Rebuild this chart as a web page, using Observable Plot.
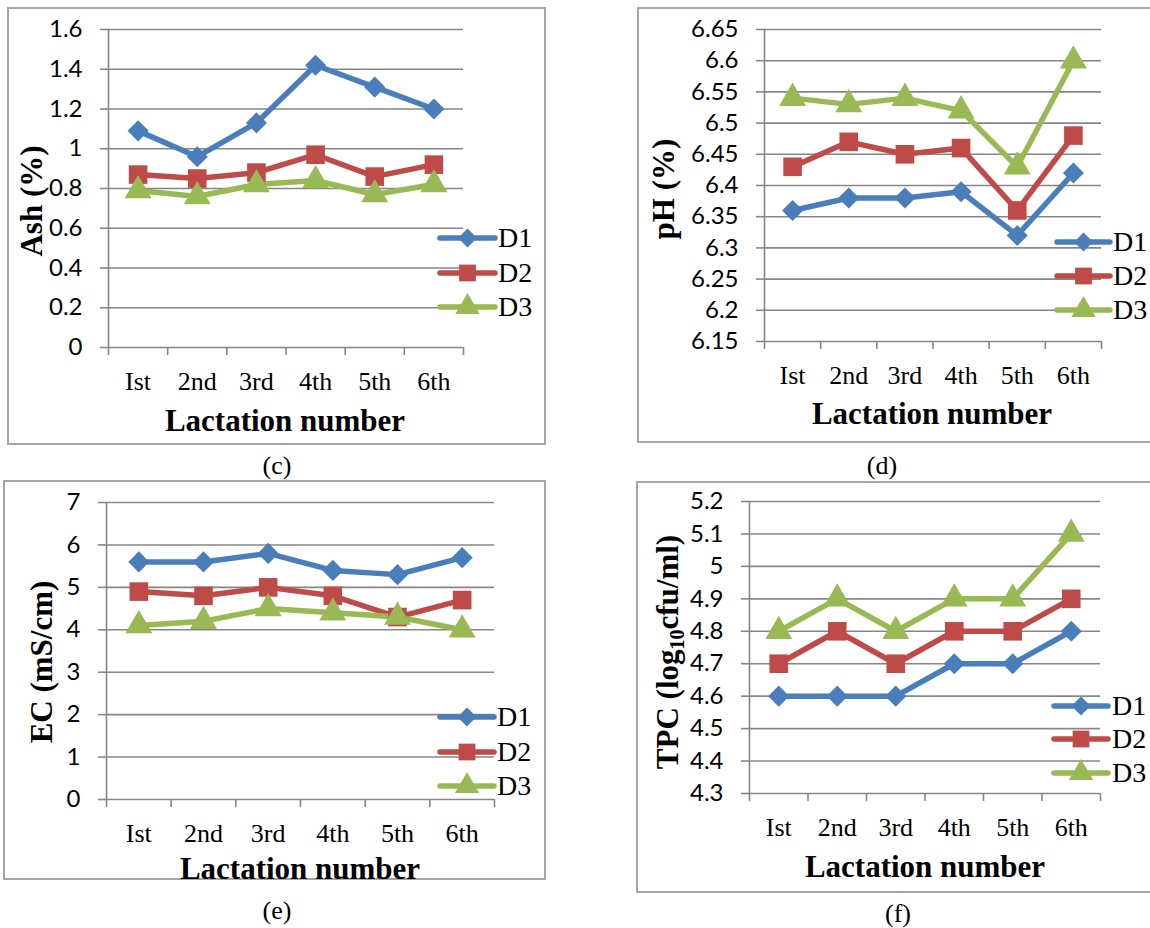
<!DOCTYPE html>
<html>
<head>
<meta charset="utf-8">
<script src="https://cdn.jsdelivr.net/npm/d3@7"></script>
<script src="https://cdn.jsdelivr.net/npm/@observablehq/plot@0.6"></script>
<style>
  html, body { margin: 0; padding: 0; background: #ffffff; }
  #page { position: relative; width: 1150px; height: 928px; overflow: hidden; background: #fff; }
  .box { position: absolute; border: 2px solid #a6a6a6; box-sizing: border-box; }
  .plot { position: absolute; }
  .ylab, .xlab, .cap, .leglab { position: absolute; white-space: nowrap; font-family: "Liberation Serif", "Times New Roman", serif; color: #000; }
  .ylab { font-weight: bold; font-size: 31px; transform: translate(-50%, -50%) rotate(-90deg); line-height: 1; }
  .ylab sub { font-size: 20px; vertical-align: -6px; line-height: 0; }
  .xlab { font-weight: bold; font-size: 31px; transform: translate(-50%, -50%); line-height: 1; }
  .cap { font-size: 26px; transform: translate(-50%, -50%); line-height: 1; }
  .leglab { font-size: 28px; transform: translate(0, -50%); line-height: 1; }
  .legsvg { position: absolute; overflow: visible; }
</style>
</head>
<body>
<div id="page"></div>
<script>
// ---------- data ----------
const lactation = ["Ist", "2nd", "3rd", "4th", "5th", "6th"];
const seriesNames = ["D1", "D2", "D3"];

const ashD1 = [1.09, 0.96, 1.13, 1.42, 1.31, 1.20];
const ashD2 = [0.87, 0.85, 0.88, 0.97, 0.86, 0.92];
const ashD3 = [0.79, 0.76, 0.82, 0.84, 0.77, 0.82];
const ashTicks = [0, 0.2, 0.4, 0.6, 0.8, 1, 1.2, 1.4, 1.6];
const ashTickLabels = ["0", "0.2", "0.4", "0.6", "0.8", "1", "1.2", "1.4", "1.6"];

const phD1 = [6.36, 6.38, 6.38, 6.39, 6.32, 6.42];
const phD2 = [6.43, 6.47, 6.45, 6.46, 6.36, 6.48];
const phD3 = [6.54, 6.53, 6.54, 6.52, 6.43, 6.60];
const phTicks = [6.15, 6.2, 6.25, 6.3, 6.35, 6.4, 6.45, 6.5, 6.55, 6.6, 6.65];
const phTickLabels = ["6.15", "6.2", "6.25", "6.3", "6.35", "6.4", "6.45", "6.5", "6.55", "6.6", "6.65"];

const ecD1 = [5.6, 5.6, 5.8, 5.4, 5.3, 5.7];
const ecD2 = [4.9, 4.8, 5.0, 4.8, 4.3, 4.7];
const ecD3 = [4.1, 4.2, 4.5, 4.4, 4.3, 4.0];
const ecTicks = [0, 1, 2, 3, 4, 5, 6, 7];
const ecTickLabels = ["0", "1", "2", "3", "4", "5", "6", "7"];

const tpcD1 = [4.6, 4.6, 4.6, 4.7, 4.7, 4.8];
const tpcD2 = [4.7, 4.8, 4.7, 4.8, 4.8, 4.9];
const tpcD3 = [4.8, 4.9, 4.8, 4.9, 4.9, 5.1];
const tpcTicks = [4.3, 4.4, 4.5, 4.6, 4.7, 4.8, 4.9, 5.0, 5.1, 5.2];
const tpcTickLabels = ["4.3", "4.4", "4.5", "4.6", "4.7", "4.8", "4.9", "5", "5.1", "5.2"];

// ---------- styles ----------
const seriesColors = ["#4A7EBB", "#BE4B48", "#98B954"];
const seriesSymbols = ["diamond2", "square", "triangle"];
const seriesR = [9.5, 10.5, 10];
const gridColor = "#868686";

// ---------- panel layout ----------
const panels = [
  { values: [ashD1, ashD2, ashD3], ticks: ashTicks, tickLabels: ashTickLabels,
    box: {l: 7, t: 7, r: 546, b: 445}, frame: {l: 108, r: 463, t: 29, b: 347},
    ylab: "Ash (%)", ylabPos: [31, 201], xlabPos: [285, 420], cap: "(c)", capPos: [277, 466],
    leg: {x1: 440, x2: 495, lx: 498, ys: [238, 273, 307]} },
  { values: [phD1, phD2, phD3], ticks: phTicks, tickLabels: phTickLabels,
    box: {l: 637, t: 7, r: 1160, b: 443}, frame: {l: 764, r: 1101, t: 29, b: 341},
    ylab: "pH (%)", ylabPos: [663, 189], xlabPos: [932, 413], cap: "(d)", capPos: [882, 466],
    leg: {x1: 1057, x2: 1110, lx: 1113, ys: [242, 276, 310]} },
  { values: [ecD1, ecD2, ecD3], ticks: ecTicks, tickLabels: ecTickLabels,
    box: {l: 3, t: 480, r: 546, b: 880}, frame: {l: 106, r: 494, t: 502, b: 799},
    ylab: "EC (mS/cm)", ylabPos: [41, 662], xlabPos: [300, 868], cap: "(e)", capPos: [277, 911],
    leg: {x1: 440, x2: 494, lx: 497, ys: [717, 752, 786]} },
  { values: [tpcD1, tpcD2, tpcD3], ticks: tpcTicks, tickLabels: tpcTickLabels,
    box: {l: 636, t: 481, r: 1160, b: 893}, frame: {l: 749, r: 1100, t: 501, b: 793},
    ylab: "TPC (log<sub>10</sub>cfu/ml)", ylabPos: [667, 652], xlabPos: [925, 866], cap: "(f)", capPos: [898, 914],
    leg: {x1: 1054, x2: 1108, lx: 1112, ys: [706, 739, 773]} }
];

const page = document.getElementById("page");
const centers = lactation.map((_, i) => i + 0.5);
const bounds = lactation.map((_, i) => i).concat([lactation.length]);

function el(cls, html, x, y) {
  const d = document.createElement("div");
  d.className = cls;
  d.innerHTML = html;
  d.style.left = x + "px";
  d.style.top = y + "px";
  page.appendChild(d);
  return d;
}

for (const p of panels) {
  // border box
  const box = document.createElement("div");
  box.className = "box";
  Object.assign(box.style, {left: p.box.l + "px", top: p.box.t + "px",
    width: (p.box.r - p.box.l) + "px", height: (p.box.b - p.box.t) + "px"});
  page.appendChild(box);

  const rows = [];
  seriesNames.forEach((s, si) => {
    p.values[si].forEach((v, i) => rows.push({series: s, cat: lactation[i], idx: i, value: v}));
  });
  const yMin = p.ticks[0], yMax = p.ticks[p.ticks.length - 1];

  const dotMarks = seriesNames.map((s, si) =>
    Plot.dot(rows.filter(d => d.series === s), {x: d => d.idx + 0.5, y: "value",
      symbol: seriesSymbols[si], fill: seriesColors[si], r: seriesR[si], stroke: "none"}));

  const chart = Plot.plot({
    width: p.box.r - p.box.l,
    height: p.box.b - p.box.t,
    marginLeft: p.frame.l - p.box.l,
    marginRight: p.box.r - p.frame.r,
    marginTop: p.frame.t - p.box.t,
    marginBottom: p.box.b - p.frame.b,
    style: {background: "transparent", overflow: "visible"},
    x: {type: "linear", domain: [0, lactation.length], axis: null},
    y: {domain: [yMin, yMax], axis: null},
    color: {domain: seriesNames, range: seriesColors},
    marks: [
      Plot.ruleY(p.ticks, {stroke: gridColor, strokeWidth: 1.6}),
      Plot.axisY({ticks: p.ticks, tickSize: 8, tickPadding: 18, stroke: gridColor, strokeWidth: 1.6,
        tickFormat: d => p.tickLabels[p.ticks.indexOf(d)], fontSize: 24, fontFamily: "Lato, 'Open Sans', sans-serif",
        fill: "#000", label: null}),
      Plot.ruleX([0], {stroke: gridColor, strokeWidth: 1.6}),
      Plot.axisX({ticks: bounds, tickSize: 8, stroke: gridColor, strokeWidth: 1.6, fill: "none", label: null}),
      Plot.axisX({ticks: centers, tickSize: 0, tickPadding: 24, tickFormat: d => lactation[Math.round(d - 0.5)],
        fontSize: 26, fontFamily: "'Liberation Serif', 'Times New Roman', serif", fill: "#000", label: null}),
      Plot.line(rows, {x: d => d.idx + 0.5, y: "value", z: "series", stroke: "series", strokeWidth: 5.5,
        strokeLinejoin: "miter", strokeLinecap: "butt"}),
      ...dotMarks
    ]
  });
  chart.classList.add("plot");
  chart.style.left = p.box.l + "px";
  chart.style.top = p.box.t + "px";
  page.appendChild(chart);

  // axis titles and caption
  el("ylab", p.ylab, p.ylabPos[0], p.ylabPos[1]);
  el("xlab", "Lactation number", p.xlabPos[0], p.xlabPos[1]);
  el("cap", p.cap, p.capPos[0], p.capPos[1]);

  // legend
  const lg = p.leg;
  const svg = d3.select(page).append("svg").attr("class", "legsvg")
    .attr("width", 1150).attr("height", 928).style("left", "0px").style("top", "0px");
  seriesNames.forEach((s, si) => {
    const y = lg.ys[si];
    svg.append("line").attr("x1", lg.x1).attr("x2", lg.x2).attr("y1", y).attr("y2", y)
      .attr("stroke", seriesColors[si]).attr("stroke-width", 5.5).attr("stroke-linecap", "round");
    const symType = [d3.symbolDiamond2, d3.symbolSquare, d3.symbolTriangle][si];
    const r = seriesR[si] * 0.9;
    svg.append("path").attr("d", d3.symbol(symType, Math.PI * r * r)())
      .attr("transform", `translate(${(lg.x1 + lg.x2) / 2},${y})`).attr("fill", seriesColors[si]);
    const lab = el("leglab", s, lg.lx, y);
    lab.style.fontFamily = "'Liberation Serif', 'Times New Roman', serif";
  });
}
</script>
</body>
</html>
